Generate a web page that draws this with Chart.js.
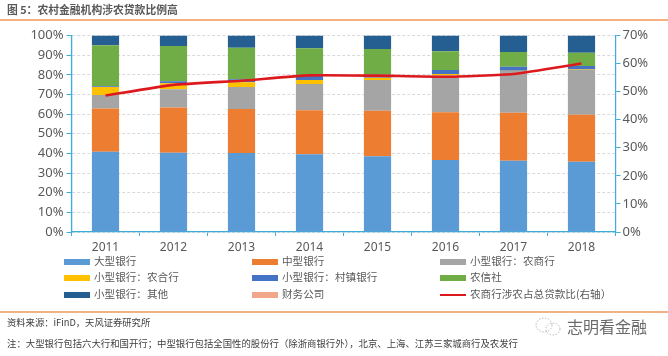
<!DOCTYPE html>
<html><head><meta charset="utf-8">
<script src="https://cdn.jsdelivr.net/npm/chart.js@4"></script>
<style>
html,body{margin:0;padding:0;background:#fff;width:668px;height:356px;overflow:hidden}
body{position:relative;font-family:"Noto Sans CJK SC","Noto Sans",sans-serif}
#c{position:absolute;left:0;top:0}
.t{position:absolute;white-space:nowrap;line-height:1}
.rule{position:absolute;left:0;width:668px;height:1px;background:#F4B183}
.sw{position:absolute;width:26px;height:6px}
</style></head><body>
<canvas id="c" width="668" height="356"></canvas>
<div class="t" style="left:7px;top:4px;font-size:10.8px;font-weight:700;color:#595959">图 5&#xFF1A;农村金融机构涉农贷款比例高</div>
<div class="rule" style="top:19px;height:1.5px"></div>
<div class="rule" style="top:311px;height:1.5px"></div>
<div class="t" style="left:7px;top:318px;font-size:9.3px;color:#404040">资料来源&#xFF1A;iFinD&#xFF0C;天风证券研究所</div>
<div class="t" style="left:7px;top:339px;font-size:9.4px;color:#404040">注&#xFF1A;大型银行包括六大行和国开行&#xFF1B;中型银行包括全国性的股份行&#xFF08;除浙商银行外&#xFF09;&#xFF0C;北京、上海、江苏三家城商行及农发行</div>
<div class="t" style="left:567px;top:318px;font-size:16px;color:#6b6b6b">志明看金融</div>
<svg style="position:absolute;left:533px;top:316px" width="30" height="22" fill="none" stroke="#b5b5b5" stroke-width="1" stroke-dasharray="1.5 1.5"><ellipse cx="11" cy="9" rx="8" ry="7"/><ellipse cx="20" cy="13" rx="7" ry="6"/></svg>
<div id="lg"></div>
<script>
const categories=["2011","2012","2013","2014","2015","2016","2017","2018"];
const large=[40.9,40.3,40.2,39.6,38.5,36.6,36.3,35.8];
const medium=[22.0,23.0,22.4,22.3,23.2,24.4,24.4,23.9];
const ruralCommercial=[6.8,9.3,11.2,13.4,15.7,18.6,21.2,22.7];
const ruralCooperative=[4.1,3.1,2.4,2.0,1.1,0.8,0.2,0.3];
const villageBank=[0.4,1.0,1.5,2.1,1.5,2.0,2.0,1.8];
const ruralCredit=[20.8,18.0,16.1,14.1,13.1,9.6,7.5,6.7];
const smallOther=[5.0,5.3,6.2,6.5,6.9,8.0,8.4,8.8];
const financeCo=[0,0,0,0,0,0,0,0];
const agriShare=[48.6,52.4,53.9,55.8,55.7,55.3,56.3,60.0];
const leftTicks=[0,10,20,30,40,50,60,70,80,90,100];
const rightTicks=[0,10,20,30,40,50,60,70];
const AX="#3DAEDB",GR="#D9D9D9",TX="#595959";
const bar=(label,data,backgroundColor)=>({type:"bar",label,data,backgroundColor,stack:"s",yAxisID:"y",categoryPercentage:1,barPercentage:0.4,order:2,borderWidth:0});
const datasets=[
 bar("大型银行",large,"#5B9BD5"),
 bar("中型银行",medium,"#ED7D31"),
 bar("小型银行\uFF1A农商行",ruralCommercial,"#A5A5A5"),
 bar("小型银行\uFF1A农合行",ruralCooperative,"#FFC000"),
 bar("小型银行\uFF1A村镇银行",villageBank,"#4472C4"),
 bar("农信社",ruralCredit,"#70AD47"),
 bar("小型银行\uFF1A其他",smallOther,"#255E91"),
 bar("财务公司",financeCo,"#F1A78A"),
 {type:"line",label:"农商行涉农占总贷款比(右轴\uFF09",data:agriShare,yAxisID:"y2",borderColor:"#DC1A1E",backgroundColor:"#DC1A1E",borderWidth:2.6,pointRadius:0,tension:0.15,order:1,fill:false}
];
const tickFont={family:"'Noto Sans','Noto Sans CJK SC',sans-serif",size:13};
new Chart(document.getElementById("c"),{
 data:{labels:categories,datasets},
 options:{responsive:false,animation:false,devicePixelRatio:1,
  layout:{padding:{left:0,right:0,top:35.5,bottom:0}},
  plugins:{legend:{display:false},tooltip:{enabled:false}},
  scales:{
   x:{stacked:true,offset:true,afterFit:s=>{s.height=124},
      grid:{offset:true,drawOnChartArea:false,color:AX,tickLength:4,tickColor:AX},
      border:{color:AX,width:1.2},
      ticks:{color:TX,font:{family:tickFont.family,size:12},padding:4,maxRotation:0}},
   y:{stacked:true,position:"left",min:0,max:100,afterFit:s=>{s.width=71.5},
      afterBuildTicks:s=>{s.ticks=leftTicks.map(value=>({value}))},
      grid:{color:GR,lineWidth:1,tickLength:5,tickColor:AX,tickBorderDash:[],drawTicks:true},
      border:{color:AX,width:1.2,dash:[3,2]},
      ticks:{color:TX,font:tickFont,padding:3,callback:v=>v+"%"}},
   y2:{position:"right",min:0,max:70,afterFit:s=>{s.width=52.5},
      afterBuildTicks:s=>{s.ticks=rightTicks.map(value=>({value}))},
      grid:{drawOnChartArea:false,tickLength:5,tickColor:AX},
      border:{color:AX,width:1.2},
      ticks:{color:TX,font:tickFont,padding:2,callback:v=>v+"%"}}
  }
 },
 plugins:[{id:"solidAxis",afterDraw(c){const g=c.ctx,a=c.chartArea;g.save();g.strokeStyle=AX;g.lineWidth=1.2;g.beginPath();g.moveTo(a.left,a.top);g.lineTo(a.left,a.bottom);g.stroke();g.restore();}}]
});
const lg=document.getElementById("lg");
const colX=[64,252,440],rowY=[262,278,294.5];
datasets.forEach((d,i)=>{
 const x=colX[i%3],y=rowY[Math.floor(i/3)],line=d.type==="line";
 const s=document.createElement("div");s.className="sw";
 s.style.cssText=`left:${x}px;top:${line?y-1:y-3}px;height:${line?2:6}px;background:${d.backgroundColor}`;
 lg.appendChild(s);
 const t=document.createElement("div");t.className="t";t.textContent=d.label;
 t.style.cssText=`left:${x+30}px;top:${y-6}px;font-size:10.6px;color:${TX}`;
 lg.appendChild(t);
});
</script></body></html>
